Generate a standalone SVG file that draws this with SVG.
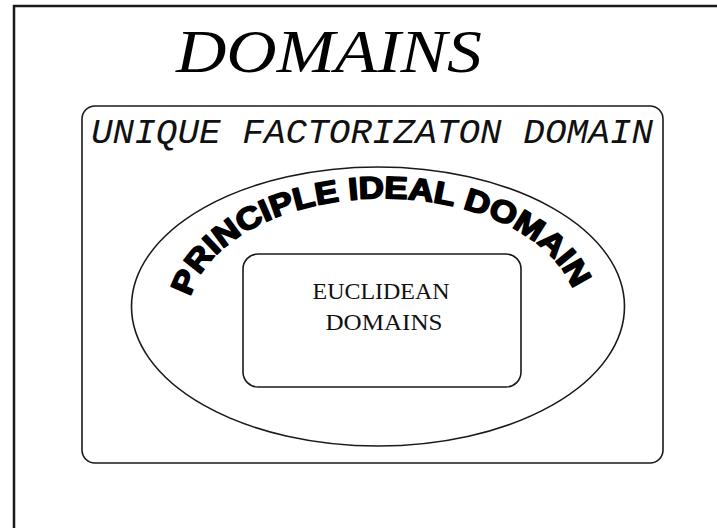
<svg xmlns="http://www.w3.org/2000/svg" width="717" height="528" viewBox="0 0 717 528">
  <style>
    .frame { fill: none; stroke: #1a1a1a; stroke-width: 2.5; }
    .shape { fill: none; stroke: #1a1a1a; stroke-width: 1.6; }
    .title { font-family: "Liberation Serif", "Times New Roman", serif; font-style: italic; font-size: 62px; fill: #000; }
    .ufd { font-family: "Liberation Mono", "Courier New", monospace; font-style: italic; font-size: 35px; fill: #111; }
    .pid { font-family: "Liberation Sans", Arial, sans-serif; font-weight: 900; font-size: 31px; fill: #000; stroke: #000; stroke-width: 1.7; stroke-linejoin: round; }
    .ed { font-family: "Liberation Serif", "Times New Roman", serif; font-size: 24px; fill: #111; text-anchor: middle; }
  </style>
  <defs>
    <!-- upper part of an ellipse, baseline for the arched label -->
    <path id="pidArc" d="M 190.6 297 A 195 118 0 0 1 575.4 297"/>
  </defs>

  <rect width="717" height="528" fill="#fff"/>
  <!-- page frame (continues past the right and bottom edges) -->
  <rect class="frame" x="14" y="6" width="720" height="540"/>

  <text class="title" x="176" y="72" textLength="306" lengthAdjust="spacingAndGlyphs">DOMAINS</text>

  <g id="ufd">
    <rect class="shape" x="82" y="106" width="581" height="357" rx="13" ry="13"/>
    <text class="ufd" x="91" y="143" textLength="562" lengthAdjust="spacingAndGlyphs">UNIQUE FACTORIZATON DOMAIN</text>
  </g>

  <g id="pid">
    <ellipse class="shape" cx="378" cy="306.5" rx="246.5" ry="139.5"/>
    <text class="pid"><textPath href="#pidArc" textLength="452" lengthAdjust="spacingAndGlyphs">PRINCIPLE IDEAL DOMAIN</textPath></text>
  </g>

  <g id="euclidean">
    <rect class="shape" x="243" y="254" width="278" height="133" rx="15" ry="15"/>
    <text class="ed" x="381" y="299" textLength="137" lengthAdjust="spacingAndGlyphs">EUCLIDEAN</text>
    <text class="ed" x="384" y="330" textLength="117" lengthAdjust="spacingAndGlyphs">DOMAINS</text>
  </g>

  <g id="connectors"/>
</svg>
